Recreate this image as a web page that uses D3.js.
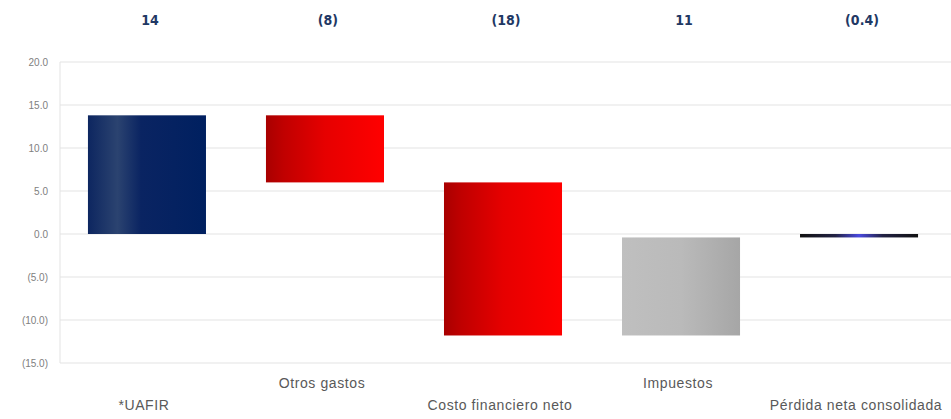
<!DOCTYPE html>
<html>
<head>
<meta charset="utf-8">
<script src="https://cdn.jsdelivr.net/npm/d3@7"></script>
<style>
	body { margin: 0; background: #fff; }
	svg { display: block; }
</style>
</head>
<body>
<div id="chart_goes_here"></div>
<script>
// waterfall data (millones)
var categories = ['*UAFIR', 'Otros gastos', 'Costo financiero neto', 'Impuestos', 'Pérdida neta consolidada'];
var bar_from = [0, 13.8, 6.0, -11.8, 0];
var bar_to = [13.8, 6.0, -11.8, -0.4, -0.4];
var top_labels = ['14', '(8)', '(18)', '11', '(0.4)'];
var bar_kind = ['navy', 'red', 'red', 'grey', 'line'];
var y_ticks = [20, 15, 10, 5, 0, -5, -10, -15];

var settings = {
	width: 951,
	height: 419,
	left: 60,
	right: 946,
	top: 62,
	bottom: 363
}

var svg = d3.select('#chart_goes_here')
	.append('svg')
	.attr('width', settings.width)
	.attr('height', settings.height);

var x = d3.scaleBand()
	.domain(categories)
	.range([settings.left, settings.right])
	.paddingInner(0.337)
	.paddingOuter(0.157);

var y = d3.scaleLinear()
	.domain([-15, 20])
	.range([settings.bottom, settings.top]);

//gradients for the bars
var defs = svg.append('defs');
function add_gradient(id, stops){
	var g = defs.append('linearGradient')
		.attr('id', id)
		.attr('x1', '0%').attr('x2', '100%')
		.attr('y1', '0%').attr('y2', '0%');
	stops.forEach(function(s){
		g.append('stop').attr('offset', s[0]).attr('stop-color', s[1]);
	});
}
add_gradient('navy', [['0%', '#0d2660'], ['25%', '#2b4370'], ['45%', '#0a2462'], ['100%', '#002060']]);
add_gradient('red', [['0%', '#a80000'], ['15%', '#c00000'], ['50%', '#e60000'], ['100%', '#ff0000']]);
add_gradient('grey', [['0%', '#bfbfbf'], ['50%', '#bababa'], ['100%', '#a6a6a6']]);
add_gradient('line', [['0%', '#111111'], ['30%', '#222244'], ['50%', '#4a4ae0'], ['70%', '#222244'], ['100%', '#111111']]);

//gridlines
svg.append('g')
	.selectAll('line')
	.data(y_ticks)
	.enter()
	.append('line')
	.attr('x1', settings.left)
	.attr('x2', settings.width)
	.attr('y1', function(d){ return y(d); })
	.attr('y2', function(d){ return y(d); })
	.style('stroke', '#e3e3e3')
	.style('stroke-width', 1);

svg.append('line')
	.attr('x1', settings.left).attr('x2', settings.left)
	.attr('y1', y(20)).attr('y2', y(-15))
	.style('stroke', '#e3e3e3');

//y axis
var y_axis = d3.axisLeft(y)
	.tickValues(y_ticks)
	.tickSize(0)
	.tickPadding(12)
	.tickFormat(function(d){
		var s = Math.abs(d).toFixed(1);
		return d < 0 ? '(' + s + ')' : s;
	});

svg.append('g')
	.attr('transform', 'translate(' + settings.left + ',0)')
	.call(y_axis)
	.call(function(g){ g.select('.domain').remove(); })
	.selectAll('text')
	.style('font-family', 'Liberation Sans, Arial, sans-serif')
	.style('font-size', '10px')
	.style('fill', '#808080');

//bars
svg.append('g')
	.selectAll('rect')
	.data(categories)
	.enter()
	.append('rect')
	.attr('x', function(d){ return x(d); })
	.attr('y', function(d, i){ return y(Math.max(bar_from[i], bar_to[i])); })
	.attr('width', x.bandwidth())
	.attr('height', function(d, i){
		var h = Math.abs(y(bar_from[i]) - y(bar_to[i]));
		return Math.max(h, 3);
	})
	.style('fill', function(d, i){ return 'url(#' + bar_kind[i] + ')'; });

//value labels above
svg.append('g')
	.selectAll('text')
	.data(categories)
	.enter()
	.append('text')
	.attr('x', function(d){ return x(d) + x.bandwidth() / 2 + 3; })
	.attr('y', 25)
	.attr('text-anchor', 'middle')
	.style('font-family', 'DejaVu Sans Condensed, DejaVu Sans, sans-serif')
	.style('font-weight', 'bold')
	.style('font-size', '14px')
	.style('fill', '#1f3864')
	.text(function(d, i){ return top_labels[i]; });

//category labels, alternating heights
svg.append('g')
	.selectAll('text')
	.data(categories)
	.enter()
	.append('text')
	.attr('x', function(d){ return x(d) + x.bandwidth() / 2 - 3; })
	.attr('y', function(d, i){ return i % 2 == 0 ? 410 : 388; })
	.attr('text-anchor', 'middle')
	.style('font-family', 'Liberation Sans, Arial, sans-serif')
	.style('font-size', '14px')
	.style('letter-spacing', '0.6px')
	.style('fill', '#595959')
	.text(function(d){ return d; });
</script>
</body>
</html>
